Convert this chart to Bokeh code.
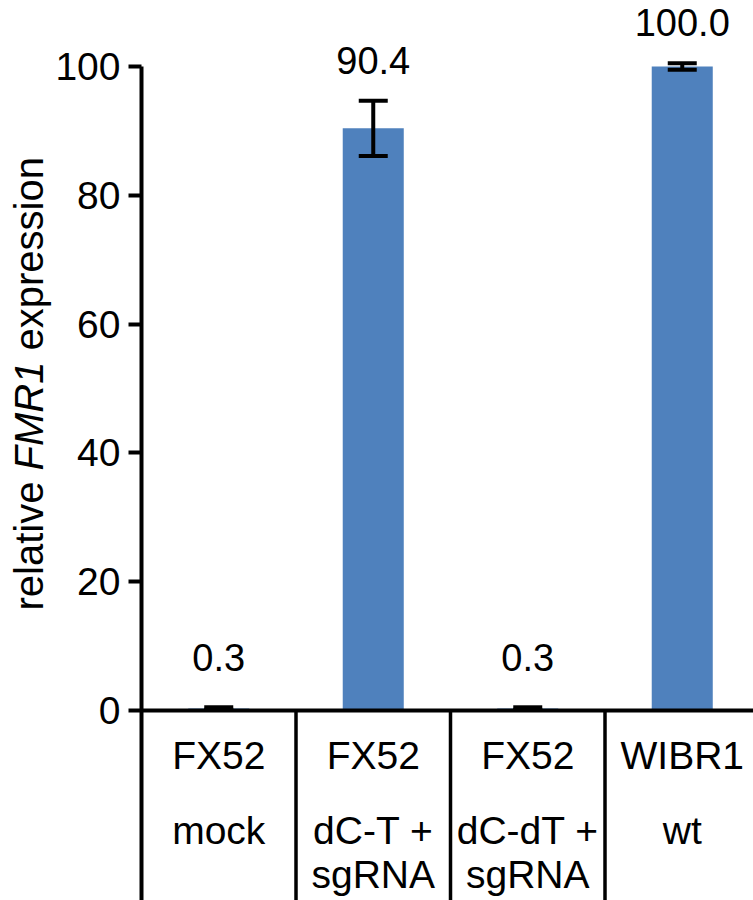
import numpy as np
from bokeh.plotting import figure
from bokeh.models import (ColumnDataSource, Range1d, FixedTicker, Label,
                          LabelSet, Whisker, TeeHead)
from bokeh.core.properties import value
from bokeh.embed import file_html
from bokeh.resources import INLINE

# ---- data ----
cell_line = ["FX52", "FX52", "FX52", "WIBR1"]
treatment_1 = ["mock", "dC-T +", "dC-dT +", "wt"]
treatment_2 = ["", "sgRNA", "sgRNA", ""]
expression = [0.3, 90.4, 0.3, 100.0]
error = [0.2, 4.3, 0.2, 0.5]
y_ticks = [0, 20, 40, 60, 80, 100]

# ---- layout constants ----
FONT = "Liberation Sans"
W, H = 753, 900
AXIS_X, ZERO_Y = 141, 710        # pixel position of the axes origin
cat_px = 154.5                   # pixels per category
px_per_unit = 6.44               # pixels per y unit
x_start = -AXIS_X / cat_px
x_end = (W - AXIS_X) / cat_px
y_top = ZERO_Y / px_per_unit
y_bottom = -(H - ZERO_Y) / px_per_unit

n = len(expression)
xs = np.arange(n) + 0.5
vals = np.array(expression)
errs = np.array(error)
upper = vals + errs
lower = vals - errs
label_base = np.maximum(upper, 2.0)

src = ColumnDataSource(dict(
    x=xs, top=vals, upper=upper, lower=lower, label_y=label_base,
    label=["%.1f" % v for v in expression],
    l1=cell_line, l2=treatment_1, l3=treatment_2,
))

p = figure(width=W, height=H, output_backend="svg", toolbar_location=None,
           x_range=Range1d(x_start, x_end), y_range=Range1d(y_bottom, y_top),
           x_axis_location=None, y_axis_location="left",
           min_border=0)
p.grid.visible = False
p.outline_line_color = None
p.background_fill_color = "white"
p.border_fill_color = "white"

ax = p.yaxis[0]
ax.fixed_location = 0
ax.bounds = (y_bottom, max(y_ticks))
ax.ticker = FixedTicker(ticks=y_ticks)
ax.minor_tick_line_color = None
ax.major_tick_out = 13
ax.major_tick_in = 0
ax.major_tick_line_width = 4
ax.major_tick_line_color = "black"
ax.axis_line_width = 4
ax.axis_line_color = "black"
ax.major_label_text_font = FONT
ax.major_label_text_font_size = "39px"
ax.major_label_text_color = "black"
ax.major_label_standoff = 8

# bars
p.vbar(x="x", top="top", bottom=0, width=0.395, source=src,
       fill_color="#4F81BD", line_color=None)

# zero line and category dividers
bounds = np.arange(1, n + 1)
p.segment(x0=[0], y0=[0], x1=[n], y1=[0], line_color="black", line_width=4)
p.segment(x0=bounds, y0=0, x1=bounds, y1=y_bottom, line_color="black", line_width=3.5)

# error bars
p.add_layout(Whisker(base="x", upper="upper", lower="lower", source=src,
                     dimension="height", line_width=4, line_color="black",
                     level="overlay",
                     upper_head=TeeHead(size=29, line_width=4, line_color="black"),
                     lower_head=TeeHead(size=29, line_width=4, line_color="black")))

# value labels
p.add_layout(LabelSet(x="x", y="label_y", text="label", source=src,
                      text_align="center", text_baseline="alphabetic",
                      y_offset=27, text_font=value(FONT), text_font_size=value("38px"),
                      text_color="black"))

# category table below the axis
for col, px in (("l1", 45), ("l2", 120), ("l3", 164)):
    p.text(x="x", y=-px / px_per_unit, text=col, source=src,
           text_align="center", text_baseline="alphabetic",
           text_font=value(FONT), text_font_size="39px", text_color="black")

# y-axis label with italic gene name
lab_x = (28 - AXIS_X) / cat_px
fs = 40
parts = [("relative", "normal", 3223 + 278), ("FMR1", "italic", 2722 + 278), ("expression", "normal", 4835)]
y_px = ZERO_Y - 610  # label starts 610 px from top
for txt, style, w1000 in parts:
    p.add_layout(Label(x=lab_x, y=y_px / px_per_unit, text=txt, angle=np.pi / 2,
                       text_align="left", text_baseline="alphabetic",
                       text_font=FONT, text_font_style=style,
                       text_font_size="%dpx" % fs, text_color="black"))
    y_px += w1000 / 1000 * fs

open("out.html", "w").write(file_html(p, INLINE))
